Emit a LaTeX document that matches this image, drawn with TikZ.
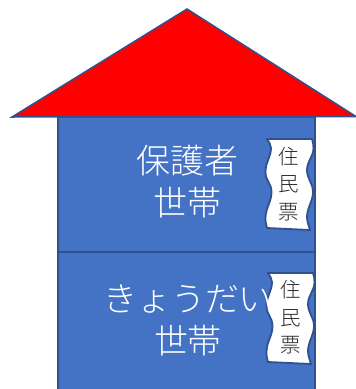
\documentclass[tikz,border=0pt]{standalone}
\usepackage{fontspec}
\newfontfamily\cjk{Noto Sans CJK JP Light}
\definecolor{bodyblue}{HTML}{4472C4}
\definecolor{edgeblue}{HTML}{2F528F}
\tikzset{
  x=1pt,y=-1pt,
  edge/.style={draw=edgeblue,line width=1.5pt,line join=miter},
  big/.style={text=white,font=\cjk\fontsize{34}{42}\selectfont,align=center,inner sep=0pt},
  small/.style={text=black!85,font=\cjk\fontsize{20.5}{27.5}\selectfont,align=center,inner sep=0pt},
  sheet/.pic={
    \path[edge,fill=white,line width=1.8pt]
      (267,139) -- (312,139)
      .. controls (313,142) and (313.5,145) .. (313.5,148)
      .. controls (313.5,157) and (307,161) .. (307,170)
      .. controls (307,179) and (313,183) .. (313,192)
      .. controls (313,201) and (307,208) .. (307,217)
      .. controls (307,222) and (309,226) .. (310,230)
      -- (267,228)
      .. controls (266,225) and (265.5,222) .. (265.5,218)
      .. controls (265.5,208) and (271.5,202) .. (271.5,192)
      .. controls (271.5,183) and (265.5,181) .. (265.5,172)
      .. controls (265.5,162) and (271,157) .. (271,148)
      .. controls (271,145) and (269,142) .. (267,139) -- cycle;
  }
}
\begin{document}
\begin{tikzpicture}
\useasboundingbox (0,0) rectangle (356,389);
\path[edge,fill=bodyblue] (58,117) rectangle (315,395);
\draw[edge] (58,252) coordinate (dl) -- (315,252) coordinate (dr);
\path[edge,fill=red] (12,117) -- (187,9) -- (356,116.5) -- cycle;
\pic at (0,0) {sheet};
\pic at (1,134) {sheet};
\node[big] (a) at (187,182) {保護者\\世帯};
\node[big] (b) at (188,320) {きょうだい\\世帯};
\node[small] (c) at (289,184) {住\\民\\票};
\node[small] (d) at (290.5,317.5) {住\\民\\票};
\end{tikzpicture}
\end{document}
